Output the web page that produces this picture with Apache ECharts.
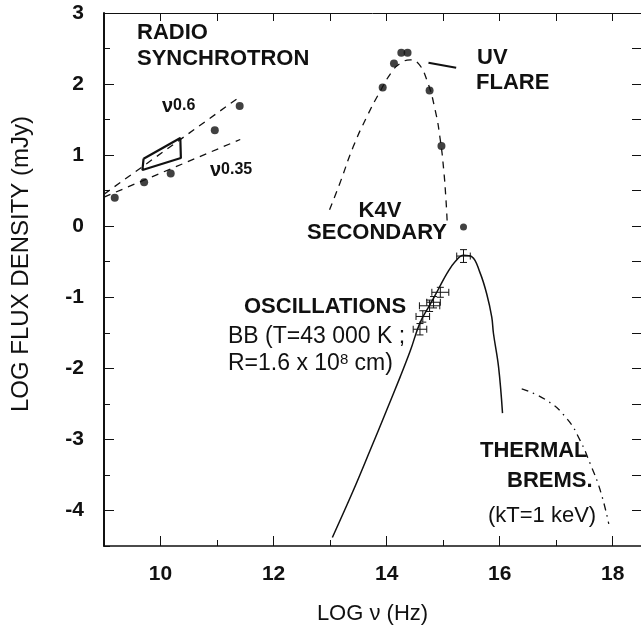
<!DOCTYPE html>
<html>
<head>
<meta charset="utf-8">
<script src="https://cdn.jsdelivr.net/npm/echarts@6/dist/echarts.min.js"></script>
<style>
    html, body { margin: 0; padding: 0; background: #fff; }
    #sed { width: 641px; height: 626px; }
</style>
</head>
<body>
<div id="sed"></div>
<script>
    // radio synchrotron points and the two power-law slopes
    const radioX = [9.19, 9.71, 10.18, 10.96, 11.40];
    const radioY = [0.40, 0.62, 0.74, 1.35, 1.69];
    const slope06 = [[9.0, 0.45], [11.42, 1.83]];
    const slope035 = [[9.0, 0.41], [11.41, 1.22]];
    const radioBox = [[9.70, 0.95], [10.35, 1.24], [10.36, 0.96], [9.68, 0.79], [9.70, 0.95]];

    // UV flare points + fitted dashed curve
    const uvX = [13.93, 14.13, 14.26, 14.37, 14.76, 14.97];
    const uvY = [1.95, 2.29, 2.44, 2.44, 1.91, 1.13];
    const uvCurve = [[12.99, 0.23], [13.18, 0.62], [13.41, 1.12], [13.65, 1.54], [13.88, 1.89],
        [14.09, 2.17], [14.24, 2.29], [14.42, 2.34], [14.56, 2.29], [14.71, 2.06], [14.86, 1.63],
        [14.95, 1.21], [15.01, 0.79], [15.05, 0.37], [15.07, 0.08]];
    const uvPointer = [[14.74, 2.30], [15.23, 2.23]];
    const k4vPoint = [[15.36, -0.01]];

    // blackbody (T=43000 K) and oscillation points: [x, y, xerr, yerr]
    const bbCurve = [[13.04, -4.38], [13.41, -3.72], [13.71, -3.15], [14.00, -2.59], [14.24, -2.12],
        [14.42, -1.75], [14.59, -1.36], [14.77, -1.10], [14.92, -0.88], [15.07, -0.66], [15.21, -0.50],
        [15.36, -0.41], [15.51, -0.43], [15.65, -0.65], [15.77, -0.95], [15.86, -1.28], [15.89, -1.51],
        [15.98, -1.98], [16.05, -2.63]];
    const oscPoints = [[14.59, -1.45, 0.12, 0.08], [14.64, -1.27, 0.12, 0.08], [14.76, -1.12, 0.18, 0.08],
        [14.83, -1.07, 0.12, 0.08], [14.95, -0.93, 0.15, 0.07], [15.36, -0.42, 0.12, 0.09]];

    // thermal bremsstrahlung kT=1 keV
    const bremsCurve = [[16.39, -2.29], [16.83, -2.45], [17.19, -2.71], [17.42, -3.01], [17.60, -3.34],
        [17.78, -3.72], [17.93, -4.19]];

    // ticks
    const xMajor = [10, 12, 14, 16, 18];
    const xMinor = [11, 13, 15, 17];
    const xTop = [10, 11, 12, 13, 14, 15, 16, 17, 18];
    const yMajor = [-4, -3, -2, -1, 0, 1, 2, 3];
    const yMinor = [-4.5, -3.5, -2.5, -1.5, -0.5, 0.5, 1.5, 2.5];
    const yRight = [-4, -3.5, -3, -2.5, -2, -1.5, -1, -0.5, 0, 0.5, 1, 1.5, 2, 2.5];

    const FONT = "'Liberation Sans', Arial, Helvetica, sans-serif";
    const ink = '#111';

    let myChart = echarts.init(document.getElementById('sed'));

    function bare(pos, ticks, len, extra) {
        return Object.assign({
            type: 'value',
            position: pos,
            axisLine: {show: false, onZero: false},
            axisTick: {show: true, inside: true, length: len, customValues: ticks, lineStyle: {color: ink, width: 1}},
            axisLabel: {show: false},
            splitLine: {show: false}
        }, extra);
    }

    function errorBars(params, api) {
        let x = api.value(0), y = api.value(1), dx = api.value(2), dy = api.value(3);
        let l = api.coord([x - dx, y]), r = api.coord([x + dx, y]);
        let t = api.coord([x, y + dy]), b = api.coord([x, y - dy]);
        let st = {stroke: ink, lineWidth: 1};
        let cap = 3.5;
        return {
            type: 'group',
            children: [
                {type: 'line', shape: {x1: l[0], y1: l[1], x2: r[0], y2: r[1]}, style: st},
                {type: 'line', shape: {x1: t[0], y1: t[1], x2: b[0], y2: b[1]}, style: st},
                {type: 'line', shape: {x1: l[0], y1: l[1] - cap, x2: l[0], y2: l[1] + cap}, style: st},
                {type: 'line', shape: {x1: r[0], y1: r[1] - cap, x2: r[0], y2: r[1] + cap}, style: st},
                {type: 'line', shape: {x1: t[0] - cap, y1: t[1], x2: t[0] + cap, y2: t[1]}, style: st},
                {type: 'line', shape: {x1: b[0] - cap, y1: b[1], x2: b[0] + cap, y2: b[1]}, style: st}
            ]
        };
    }

    function label(txt, x, y, extra, rot) {
        return {
            type: 'text',
            x: x, y: y,
            rotation: rot || 0,
            style: Object.assign({
                text: txt,
                font: 'bold 22px ' + FONT,
                fill: ink,
                verticalAlign: 'middle',
                align: 'left'
            }, extra || {})
        };
    }

    let line = (data, style, smooth) => ({
        type: 'line', data: data, symbol: 'none', smooth: smooth || false,
        lineStyle: Object.assign({color: ink, width: 1.3}, style), silent: true, z: 3
    });

    let option = {
        animation: false,
        backgroundColor: '#fff',
        textStyle: {fontFamily: FONT},
        grid: {left: 104, right: 0, top: 13, bottom: 80, outerBoundsMode: 'none', containLabel: false},
        xAxis: [
            {
                type: 'value', min: 9, max: 18.5, position: 'bottom',
                name: 'LOG ν (Hz)', nameLocation: 'middle', nameGap: 57,
                nameTextStyle: {fontSize: 22, color: ink, fontFamily: FONT},
                axisLine: {show: true, onZero: false, lineStyle: {color: ink, width: 1.5}},
                axisTick: {show: true, inside: true, length: 10, customValues: xMajor, lineStyle: {color: ink}},
                axisLabel: {customValues: xMajor, margin: 18, fontSize: 21, fontWeight: 'bold', color: ink, fontFamily: FONT},
                splitLine: {show: false}
            },
            bare('bottom', xMinor, 6, {min: 9, max: 18.5}),
            bare('top', xTop, 8, {min: 9, max: 18.5, axisLine: {show: true, onZero: false, lineStyle: {color: ink, width: 1}}})
        ],
        yAxis: [
            {
                type: 'value', min: -4.5, max: 3, position: 'left',
                axisLine: {show: true, onZero: false, lineStyle: {color: ink, width: 2}},
                axisTick: {show: true, inside: true, length: 10, customValues: yMajor, lineStyle: {color: ink}},
                axisLabel: {customValues: yMajor, margin: 20, fontSize: 21, fontWeight: 'bold', color: ink, fontFamily: FONT},
                splitLine: {show: false}
            },
            bare('left', yMinor, 6, {min: -4.5, max: 3}),
            bare('right', yRight, 9, {min: -4.5, max: 3, axisLine: {show: true, onZero: false, lineStyle: {color: ink, width: 1}}})
        ],
        graphic: [
            label('LOG FLUX DENSITY (mJy)', 21, 264, {font: '24px ' + FONT, align: 'center'}, Math.PI / 2),
            label('RADIO', 137, 33),
            label('SYNCHROTRON', 137, 59),
            {
                type: 'text', x: 162, y: 106,
                style: {text: '{v|ν}{e|0.6}', verticalAlign: 'middle', fill: ink,
                    rich: {v: {font: 'bold 20px ' + FONT, fill: ink}, e: {font: 'bold 16px ' + FONT, fill: ink}}}
            },
            {
                type: 'text', x: 210, y: 170,
                style: {text: '{v|ν}{e|0.35}', verticalAlign: 'middle', fill: ink,
                    rich: {v: {font: 'bold 20px ' + FONT, fill: ink}, e: {font: 'bold 16px ' + FONT, fill: ink}}}
            },
            label('UV', 477, 58),
            label('FLARE', 476, 83),
            label('K4V', 380, 211, {align: 'center'}),
            label('SECONDARY', 377, 233, {align: 'center'}),
            label('OSCILLATIONS', 244, 307),
            label('BB (T=43 000 K ;', 228, 337, {font: '23px ' + FONT}),
            {
                type: 'text', x: 228, y: 364,
                style: {text: '{a|R=1.6 x 10}{s|8}{a| cm)}', verticalAlign: 'middle', fill: ink,
                    rich: {a: {font: '23px ' + FONT, fill: ink}, s: {font: '15px ' + FONT, fill: ink, verticalAlign: 'top'}}}
            },
            label('THERMAL', 480, 451),
            label('BREMS.', 507, 481),
            label('(kT=1 keV)', 488, 516, {font: '22px ' + FONT})
        ],
        series: [
            line(slope06, {type: [7, 6]}),
            line(slope035, {type: [7, 6]}),
            line(radioBox, {width: 2.2}),
            {
                type: 'scatter', symbol: 'circle', symbolSize: 8,
                data: radioX.map((x, i) => [x, radioY[i]]),
                itemStyle: {color: ink}, z: 4
            },
            line(uvCurve, {type: [7, 6]}, true),
            line(uvPointer, {width: 2.2}),
            {
                type: 'scatter', symbol: 'circle', symbolSize: 8,
                data: uvX.map((x, i) => [x, uvY[i]]),
                itemStyle: {color: ink}, z: 4
            },
            {
                type: 'scatter', symbol: 'circle', symbolSize: 7,
                data: k4vPoint, itemStyle: {color: ink}, z: 4
            },
            line(bbCurve, {width: 1.5}, 0.4),
            {
                type: 'custom', renderItem: errorBars, data: oscPoints, z: 5, silent: true
            },
            line(bremsCurve, {type: [7, 5, 1.5, 5], width: 1.3}, true)
        ]
    };

    myChart.setOption(option);
</script>
</body>
</html>
